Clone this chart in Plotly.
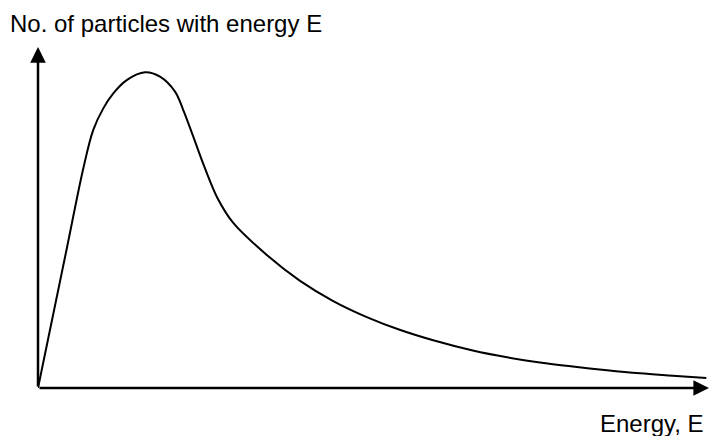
import plotly.graph_objects as go

# Energy (arbitrary units) and number of particles (arbitrary units)
energy = [0, 4.3, 6.75, 8.24, 9.73, 11.22, 13.22, 15.95, 18.18, 20.42, 21.65,
          23.14, 24.89, 26.8, 29.1, 34.1, 39.0, 44.0, 49.0, 54.0, 58.9, 64.8,
          69.9, 74.8, 79.7, 84.8, 89.7, 94.6, 99.6]
particles = [0, 41.0, 64.4, 75.7, 82.0, 86.4, 90.3, 92.6, 91.3, 86.9, 81.5,
             73.7, 64.4, 55.5, 48.4, 39.0, 31.5, 25.5, 20.8, 17.0, 14.0, 11.0,
             9.0, 7.5, 6.3, 5.2, 4.3, 3.6, 2.9]

y_title = "No. of particles with energy E"
x_title = "Energy, E"

fig = go.Figure()
fig.add_trace(go.Scatter(
    x=energy, y=particles, mode="lines",
    line=dict(color="black", width=2, shape="spline", smoothing=1.0),
    hoverinfo="skip", showlegend=False, cliponaxis=False,
))

axis_common = dict(showgrid=False, zeroline=False, showticklabels=False,
                   showline=False, ticks="", fixedrange=True)

fig.update_layout(
    width=710, height=436,
    margin=dict(l=38, r=1, t=47, b=48),
    paper_bgcolor="white", plot_bgcolor="white",
    xaxis=dict(range=[0, 100], **axis_common),
    yaxis=dict(range=[0, 100], **axis_common),
    font=dict(family="Liberation Sans, Arial, sans-serif", color="black"),
)

# axes with arrowheads
fig.add_annotation(x=0, y=100, ax=0, ay=0, xref="x", yref="y", axref="x", ayref="y",
                   showarrow=True, arrowhead=2, arrowwidth=2.5, arrowsize=1.25,
                   arrowcolor="black", text="", standoff=0, startstandoff=0)
fig.add_annotation(x=100, y=0, ax=0, ay=0, xref="x", yref="y", axref="x", ayref="y",
                   showarrow=True, arrowhead=2, arrowwidth=2.5, arrowsize=1.25,
                   arrowcolor="black", text="", standoff=0, startstandoff=0)

# axis titles
fig.add_annotation(text=y_title, xref="paper", yref="paper",
                   x=(8 - 38) / 671, y=(388 - 23) / 341,
                   xanchor="left", yanchor="middle", showarrow=False,
                   font=dict(size=24, color="black"))
fig.add_annotation(text=x_title, xref="paper", yref="paper",
                   x=(706 - 38) / 671, y=(388 - 424) / 341,
                   xanchor="right", yanchor="middle", showarrow=False,
                   font=dict(size=24, color="black"))

fig.write_html("out.html", config={"displayModeBar": False},
               post_script="document.body.style.margin='0';document.body.style.overflow='hidden';")
